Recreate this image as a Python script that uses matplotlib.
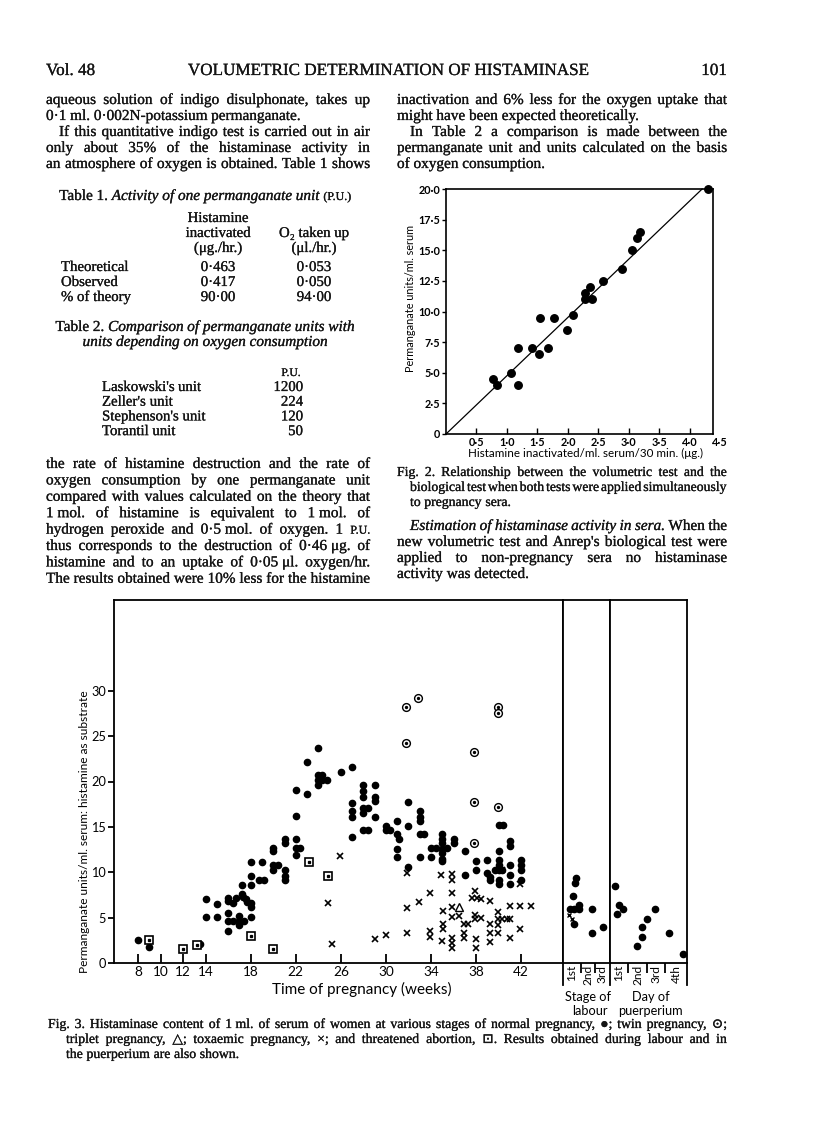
import matplotlib
matplotlib.use("Agg")
import matplotlib.pyplot as plt
from matplotlib.lines import Line2D
import matplotlib.patheffects as pe

# ---------------- data: Fig. 2 ----------------
fig2_hist = [0.77, 0.84, 1.06, 1.18, 1.18, 1.41, 1.54, 1.53, 1.68, 1.77, 1.98,
             2.08, 2.28, 2.28, 2.37, 2.39, 2.58, 2.88, 3.05, 3.13, 3.19, 4.29]
fig2_perm = [4.45, 4.0, 5.0, 7.0, 4.0, 7.0, 9.5, 6.5, 7.0, 9.5, 8.5,
             9.7, 11.5, 11.0, 12.0, 11.0, 12.5, 13.5, 15.0, 16.0, 16.5, 20.0]
fig2_slope = 4.76
fig2_xticks = [0.5, 1.0, 1.5, 2.0, 2.5, 3.0, 3.5, 4.0]
fig2_xlabels = ["0·5", "1·0", "1·5", "2·0", "2·5", "3·0", "3·5", "4·0"]
fig2_yticks = [0, 2.5, 5, 7.5, 10, 12.5, 15, 17.5, 20]
fig2_ylabels = ["0", "2·5", "5·0", "7·5", "10·0", "12·5", "15·0", "17·5", "20·0"]

# ---------------- data: Fig. 3 ----------------
normal_week = [8, 9, 13.5, 14, 14, 15, 15, 16, 16, 16, 16, 16, 16.4, 16.4, 16.7,
               17, 17, 17, 17.2, 17.2, 17.3, 17.4, 17.6, 17.7,
               18, 18, 18, 18, 18, 18, 18.7, 19, 19.2,
               20, 20, 20, 20, 20.4, 21, 21, 21, 21, 21,
               22, 22, 22, 22, 22, 22.4, 23, 23,
               24, 24, 24.3, 24, 24.3, 24, 24.8, 26,
               27, 27, 27, 27, 27, 28, 28, 28, 28, 28.4, 28, 28, 28.4,
               29, 29, 29, 29, 30, 30, 30.4, 31, 31, 31.2, 31, 31,
               32, 32, 32, 33, 33, 33, 33, 33.4, 33, 34, 34.4, 34,
               35, 35, 35, 35, 35, 35, 35, 35.4, 36, 36, 37, 37, 38, 38,
               39, 39, 39.2, 39.2,
               40, 40, 40, 40, 39.7, 40.3, 40, 40, 40, 40.4,
               41, 41, 41, 41, 41, 42, 42, 42, 42]
normal_val = [2.5, 1.8, 2.1, 7.1, 5.1, 6.5, 5.1, 7.2, 6.8, 5.5, 4.6, 3.5, 6.6, 4.6, 7.2,
              5.2, 4.6, 4.2, 8.6, 7.6, 7.3, 4.6, 7.0, 6.7,
              11.1, 9.6, 8.6, 6.6, 6.2, 5.1, 9.2, 11.1, 9.2,
              12.7, 12.3, 10.8, 10.2, 10.8, 13.7, 13.2, 10.2, 9.6, 9.2,
              19.1, 16.2, 13.7, 12.7, 11.9, 12.7, 22.2, 18.6,
              23.7, 20.7, 20.7, 20.2, 20.2, 19.6, 20.2, 21.1,
              21.6, 17.6, 16.7, 16.1, 13.9, 19.6, 18.9, 18.3, 17.1, 17.1, 16.5, 14.7, 14.7,
              19.6, 18.3, 17.8, 16.1, 15.1, 14.7, 14.7, 15.6, 14.2, 13.7, 12.6, 11.7,
              17.7, 15.1, 10.6, 16.7, 16.1, 15.6, 14.2, 14.2, 11.7, 12.7, 12.7, 11.7,
              14.2, 13.7, 13.2, 12.6, 12.1, 11.5, 11.2, 12.7, 13.7, 13.2, 12.3, 9.7, 11.2, 10.3,
              11.3, 9.9, 9.5, 9.2,
              12.3, 11.4, 10.8, 10.3, 10.3, 10.3, 9.2, 8.7, 15.2, 15.2,
              13.4, 12.9, 10.8, 9.7, 8.7, 11.4, 10.8, 10.3, 9.2]

twin_week = [31.8, 32.8, 31.8, 39.9, 39.9, 37.8, 37.8, 39.9, 37.8]
twin_val = [28.2, 29.2, 24.2, 28.2, 27.5, 23.2, 17.7, 17.2, 13.2]

triplet_week = [36.5]
triplet_val = [6.2]

toxaemic_week = [25.9, 24.9, 25.2, 29, 30, 31.9, 31.9, 31.9, 32.9, 33.9, 33.9, 33.9,
                 34.9, 35.1, 35.1, 35.1, 35.0, 35.9, 35.9, 35.9, 35.9, 35.9, 35.9, 35.9, 35.9,
                 36.5, 36.9, 37.3, 36.9, 36.9, 37.9, 37.6, 38.1, 38.4, 37.9, 37.9, 38.4, 38, 38,
                 39.2, 39.2, 39.2, 39.2, 39.9, 39.9, 39.9, 39.9, 40.3, 40.7, 41.0, 40.3,
                 41, 41, 41.9, 41.9, 41.9, 42.9]
toxaemic_val = [11.8, 6.6, 2.1, 2.6, 3.1, 9.9, 6.1, 3.3, 6.7, 7.7, 3.5, 2.9,
                9.7, 5.7, 4.3, 3.7, 2.4, 9.8, 9.2, 7.7, 6.2, 5.1, 2.7, 2.2, 1.6,
                5.2, 4.3, 4.3, 3.3, 2.7, 7.9, 7.2, 7.2, 7.1, 5.3, 4.8, 5.0, 2.6, 1.7,
                6.8, 4.3, 3.3, 2.3, 5.6, 4.8, 4.2, 3.3, 4.8, 4.8, 4.8, 10.3,
                6.3, 2.8, 6.3, 3.8, 8.7, 6.3]

abortion_week = [9, 12, 13.2, 18, 20, 23.2, 24.9]
abortion_val = [2.5, 1.5, 2.0, 3.0, 1.5, 11.1, 9.6]

fig3_xticks = [8, 10, 12, 14, 18, 22, 26, 30, 34, 38, 42]
fig3_yticks = [0, 5, 10, 15, 20, 25, 30]

# labour: position across the three stage columns (scale 0-3)
labour_pos = [0.83, 0.75, 0.66, 0.45, 1.04, 1.04, 0.72, 0.72, 1.87, 1.87, 2.57]
labour_val = [9.4, 8.8, 7.4, 6.0, 6.4, 6.0, 6.0, 4.3, 5.9, 3.3, 4.0]
labour_tox_pos = [0.36, 0.55]
labour_tox_val = [5.3, 4.9]
labour_labels = ["1st", "2nd", "3rd"]

# puerperium: position across the four day columns (scale 0-4)
puerp_pos = [0.26, 0.47, 0.35, 0.69, 1.42, 1.65, 1.66, 1.91, 2.35, 3.06, 3.78]
puerp_val = [8.5, 6.4, 5.4, 5.9, 1.9, 4.0, 2.9, 4.9, 5.9, 3.3, 1.0]
puerp_labels = ["1st", "2nd", "3rd", "4th"]

# ---------------- page setup ----------------
W, H = 816, 1145
fig = plt.figure(figsize=(W / 100, H / 100), dpi=100)
fig.patch.set_facecolor("white")
R = fig.canvas.get_renderer()
SERIF = ["Liberation Serif", "DejaVu Serif", "DejaVu Sans"]
SANS = ["Lato", "DejaVu Sans"]
INK = "#141414"
BOLDEN = [pe.withStroke(linewidth=0.18, foreground=INK)]

_cache = {}


def tw(s, size, style="normal"):
    key = (s, size, style)
    if key not in _cache:
        t = fig.text(0, 0, s, fontsize=size, family=SERIF, style=style)
        _cache[key] = t.get_window_extent(R).width
        t.remove()
    return _cache[key]


def tokens(line, size):
    out = []
    for w in line.split(" "):
        style, sz = "normal", size
        while w and w[0] in "*^":
            if w[0] == "*":
                style = "italic"
            else:
                sz = size * 0.78
            w = w[1:]
        out.append((w, sz, style))
    return out


def put_line(line, x0, x1, y, size, mode="justify"):
    toks = tokens(line, size)
    widths = [tw(w, sz, st) for w, sz, st in toks]
    space = tw("x x", size) - tw("xx", size)
    if mode == "justify" and len(toks) > 1:
        gap = (x1 - x0 - sum(widths)) / (len(toks) - 1)
        x = x0
    else:
        gap = space
        total = sum(widths) + space * (len(toks) - 1)
        if mode == "center":
            x = (x0 + x1) / 2 - total / 2
        elif mode == "right":
            x = x1 - total
        else:
            x = x0
    for (w, sz, st), wd in zip(toks, widths):
        fig.text(x / W, 1 - y / H, w, fontsize=sz, family=SERIF, style=st,
                 ha="left", va="baseline", color=INK, path_effects=BOLDEN)
        x += wd + gap


def fit_size(lines, width, start=11.0):
    s = start
    while s > 6.0:
        ok = True
        sp = tw("x x", s) - tw("xx", s)
        for ln, wdt in zip(lines, width):
            toks = tokens(ln, s)
            tot = sum(tw(w, sz, st) for w, sz, st in toks) + 0.55 * sp * (len(toks) - 1)
            if tot > wdt:
                ok = False
                break
        if ok:
            return s
        s -= 0.1
    return s


LX0, LX1 = 46, 370
RX0, RX1 = 397, 727

left_top = [("aqueous solution of indigo disulphonate, takes up", 0, "justify"),
            ("0·1 ml. 0·002N-potassium permanganate.", 0, "left"),
            ("If this quantitative indigo test is carried out in air", 13, "justify"),
            ("only about 35% of the histaminase activity in", 0, "justify"),
            ("an atmosphere of oxygen is obtained. Table 1 shows", 0, "justify")]
right_top = [("inactivation and 6% less for the oxygen uptake that", 0, "justify"),
             ("might have been expected theoretically.", 0, "left"),
             ("In Table 2 a comparison is made between the", 13, "justify"),
             ("permanganate unit and units calculated on the basis", 0, "justify"),
             ("of oxygen consumption.", 0, "left")]
left_para = ["the rate of histamine destruction and the rate of",
             "oxygen consumption by one permanganate unit",
             "compared with values calculated on the theory that",
             "1\u00a0mol. of histamine is equivalent to 1\u00a0mol. of",
             "hydrogen peroxide and 0·5\u00a0mol. of oxygen. 1 ^P.U.",
             "thus corresponds to the destruction of 0·46\u00a0μg. of",
             "histamine and to an uptake of 0·05\u00a0μl. oxygen/hr.",
             "The results obtained were 10% less for the histamine"]
right_para = [("*Estimation *of *histaminase *activity *in *sera. When the", 13, "justify"),
              ("new volumetric test and Anrep's biological test were", 0, "justify"),
              ("applied to non-pregnancy sera no histaminase", 0, "justify"),
              ("activity was detected.", 0, "left")]

just_lines = [l for l, i, m in left_top if m == "justify"] + left_para
just_w = [LX1 - LX0 - i for l, i, m in left_top if m == "justify"] + [LX1 - LX0] * len(left_para)
just_lines += [l for l, i, m in right_top + right_para if m == "justify"]
just_w += [RX1 - RX0 - i for l, i, m in right_top + right_para if m == "justify"]
BODY = fit_size(just_lines, just_w)

# running head
HEAD = BODY * 1.12
fig.text(LX0 / W, 1 - 75 / H, "Vol. 48", fontsize=HEAD, family=SERIF, va="baseline", color=INK,
         path_effects=BOLDEN)
fig.text(388 / W, 1 - 75 / H, "VOLUMETRIC DETERMINATION OF HISTAMINASE", fontsize=HEAD,
         family=SERIF, va="baseline", ha="center", color=INK, path_effects=BOLDEN)
fig.text(RX1 / W, 1 - 75 / H, "101", fontsize=HEAD, family=SERIF, va="baseline", ha="right",
         color=INK, path_effects=BOLDEN)

for k, (ln, ind, mode) in enumerate(left_top):
    put_line(ln, LX0 + ind, LX1, 104 + 16 * k, BODY, mode)
for k, (ln, ind, mode) in enumerate(right_top):
    put_line(ln, RX0 + ind, RX1, 104 + 16 * k, BODY, mode)

# Table 1
put_line("Table 1. *Activity *of *one *permanganate *unit ^(P.U.)", 205, 205, 200, BODY, "center")
TS = BODY * 0.97
put_line("Histamine", 218, 218, 222, TS, "center")
put_line("inactivated", 218, 218, 237, TS, "center")
put_line("(μg./hr.)", 218, 218, 252, TS, "center")
put_line("O₂ taken up", 314, 314, 237, TS, "center")
put_line("(μl./hr.)", 314, 314, 252, TS, "center")
t1_rows = ["Theoretical", "Observed", "% of theory"]
t1_hist = ["0·463", "0·417", "90·00"]
t1_oxy = ["0·053", "0·050", "94·00"]
for k in range(3):
    y = 271 + 15 * k
    put_line(t1_rows[k], 61, 61, y, TS, "left")
    put_line(t1_hist[k], 218, 218, y, TS, "center")
    put_line(t1_oxy[k], 314, 314, y, TS, "center")

# Table 2
put_line("Table 2. *Comparison *of *permanganate *units *with", 205, 205, 331, BODY, "center")
put_line("*units *depending *on *oxygen *consumption", 205, 205, 346, BODY, "center")
put_line("^P.U.", 291, 291, 376, TS, "center")
t2_names = ["Laskowski's unit", "Zeller's unit", "Stephenson's unit", "Torantil unit"]
t2_vals = ["1200", "224", "120", "50"]
for k in range(4):
    y = 391 + 14.7 * k
    put_line(t2_names[k], 102, 102, y, TS, "left")
    put_line(t2_vals[k], 303, 303, y, TS, "right")

for k, ln in enumerate(left_para):
    put_line(ln, LX0, LX1, 468 + 16.4 * k, BODY, "justify")

# Fig. 2 caption and paragraph
CS = BODY * 0.9
put_line("Fig. 2. Relationship between the volumetric test and the", RX0, RX1, 476, CS, "justify")
put_line("biological test when both tests were applied simultaneously", RX0 + 13, RX1, 491, CS, "justify")
put_line("to pregnancy sera.", RX0 + 13, RX1, 506, CS, "left")
for k, (ln, ind, mode) in enumerate(right_para):
    put_line(ln, RX0 + ind, RX1, 530 + 16 * k, BODY, mode)

# Fig. 3 caption
CX0, CX1 = 48, 727
put_line("Fig. 3. Histaminase content of 1\u00a0ml. of serum of women at various stages of normal pregnancy, ●; twin pregnancy, ⊙;",
         CX0, CX1, 1028, CS, "justify")
put_line("triplet pregnancy, △; toxaemic pregnancy, ×; and threatened abortion, ⊡. Results obtained during labour and in",
         CX0 + 18, CX1, 1043, CS, "justify")
put_line("the puerperium are also shown.", CX0 + 18, CX1, 1058, CS, "left")


def axes_px(x0, x1, y0, y1):
    return fig.add_axes([x0 / W, 1 - y1 / H, (x1 - x0) / W, (y1 - y0) / H])


# ---------------- Fig. 2 ----------------
ax2 = axes_px(446, 713, 189, 434)
ax2.set_xlim(0, 4.38)
ax2.set_ylim(0, 20)
xs = [0, 20 / fig2_slope]
ax2.plot(xs, [fig2_slope * v for v in xs], color="black", lw=0.9, clip_on=False)
ax2.plot(fig2_hist, fig2_perm, "o", color="black", ms=5.4, clip_on=False)
for s in ax2.spines.values():
    s.set_linewidth(1.2)
ax2.set_xticks(fig2_xticks)
ax2.set_xticklabels(fig2_xlabels)
ax2.set_yticks(fig2_yticks)
ax2.set_yticklabels(fig2_ylabels)
ax2.tick_params(axis="x", direction="in", length=4, width=1, pad=2)
ax2.tick_params(axis="y", direction="out", length=3, width=1, pad=1.2)
for lab in ax2.get_xticklabels() + ax2.get_yticklabels():
    lab.set_fontfamily(SANS)
    lab.set_fontsize(7.8)
    lab.set_fontweight("bold")
ax2.text(4.5, -0.25, "4·5", transform=ax2.transData, ha="center", va="top",
         fontsize=7.8, fontweight="bold", family=SANS, clip_on=False)
fig.text(586 / W, 1 - 453 / H, "Histamine inactivated/ml. serum/30 min. (μg.)", ha="center", va="center",
         fontsize=8.4, family=SANS)
fig.text(411 / W, 1 - 298 / H, "Permanganate units/ml. serum", rotation=90, ha="center", va="center",
         fontsize=7.8, family=SANS)

# ---------------- Fig. 3 ----------------
Y0, Y1 = 600, 963
axm = axes_px(114, 563, Y0, Y1)
axl = axes_px(563, 610, Y0, Y1)
axp = axes_px(610, 687, Y0, Y1)
for a in (axm, axl, axp):
    a.set_ylim(0, 40)
    for s in a.spines.values():
        s.set_linewidth(1.3)
axm.set_xlim(5.87, 45.71)
axl.set_xlim(0, 3)
axp.set_xlim(0, 4)

DOT = dict(ls="none", marker="o", color="black", ms=4.5, clip_on=False)
axm.plot(normal_week, normal_val, **DOT)
axm.plot(twin_week, twin_val, ls="none", marker="o", mfc="white", mec="black", mew=1.0, ms=5.6)
axm.plot(twin_week, twin_val, ls="none", marker="o", color="black", ms=1.4)
axm.plot(abortion_week, abortion_val, ls="none", marker="s", mfc="white", mec="black", mew=1.2, ms=5.6)
axm.plot(abortion_week, abortion_val, ls="none", marker="s", color="black", ms=1.4)
axm.plot(triplet_week, triplet_val, ls="none", marker="^", mfc="white", mec="black", mew=1.0, ms=5.6)
axm.plot(toxaemic_week, toxaemic_val, ls="none", marker="x", color="black", mew=1.2, ms=4.0)
axl.plot(labour_pos, labour_val, **DOT)
axl.plot(labour_tox_pos, labour_tox_val, ls="none", marker="x", color="black", mew=1.0, ms=3.4)
axp.plot(puerp_pos, puerp_val, **DOT)

axm.set_xticks(fig3_xticks)
axm.set_xticklabels([str(v) for v in fig3_xticks])
axm.set_yticks(fig3_yticks)
axm.set_yticklabels([str(v) for v in fig3_yticks])
axm.tick_params(axis="x", direction="in", length=6.5, width=1.3, pad=2)
axm.tick_params(axis="y", direction="out", length=4.5, width=1.3, pad=1.2)
for lab in axm.get_xticklabels():
    lab.set_fontfamily(SANS)
    lab.set_fontsize(9.8)
for lab in axm.get_yticklabels():
    lab.set_fontfamily(SANS)
    lab.set_fontsize(9.2)

labour_edges = [0, 1.15, 2.04, 3]
puerp_edges = [0, 0.94, 1.92, 2.86, 4]
for a, edges, labs in ((axl, labour_edges, labour_labels), (axp, puerp_edges, puerp_labels)):
    a.set_yticks([])
    a.set_xticks(edges[1:-1])
    a.set_xticklabels([])
    a.tick_params(axis="x", which="major", direction="out", length=7, width=1.3)
    centers = [(edges[i] + edges[i + 1]) / 2 for i in range(len(labs))]
    a.set_xticks(centers, minor=True)
    a.set_xticklabels(labs, minor=True, rotation=90, fontsize=8.6, family=SANS)
    a.tick_params(axis="x", which="minor", length=0, pad=1.5)

for xp in (563, 610, 687):
    fig.add_artist(Line2D([xp / W, xp / W], [1 - 963 / H, 1 - 985 / H], color="black", lw=1.3))

fig.text(85 / W, 1 - 832 / H, "Permanganate units/ml. serum: histamine as substrate", rotation=90,
         ha="center", va="center", fontsize=8.6, family=SANS)
fig.text(362 / W, 1 - 989 / H, "Time of pregnancy (weeks)", ha="center", va="center", fontsize=11, family=SANS)
fig.text(588 / W, 1 - 997 / H, "Stage of", ha="center", va="center", fontsize=9.2, family=SANS)
fig.text(590 / W, 1 - 1011 / H, "labour", ha="center", va="center", fontsize=9.2, family=SANS)
fig.text(651 / W, 1 - 997 / H, "Day of", ha="center", va="center", fontsize=9.2, family=SANS)
fig.text(650 / W, 1 - 1011 / H, "puerperium", ha="center", va="center", fontsize=9.2, family=SANS)

fig.savefig("out.png", dpi=100, facecolor="white")
